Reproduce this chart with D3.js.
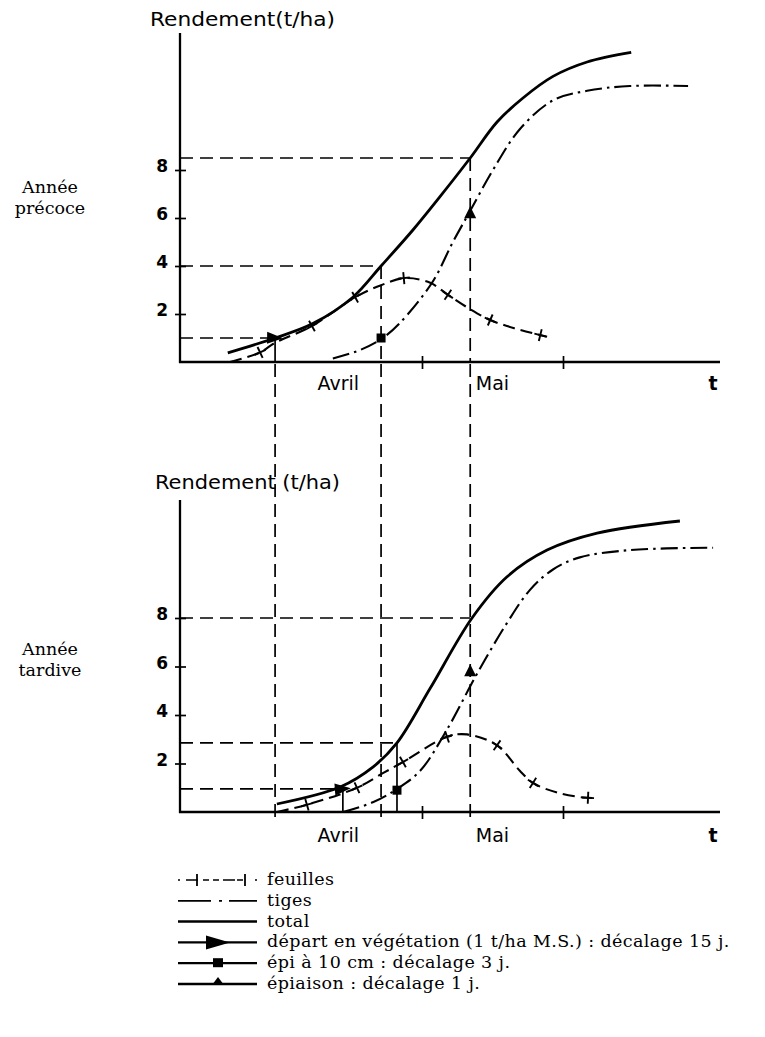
<!DOCTYPE html>
<html><head><meta charset="utf-8">
<script src="https://cdn.jsdelivr.net/npm/d3@7"></script>
<style>body{margin:0;background:#fff} svg{display:block}</style>
</head><body>
<svg id="c" width="765" height="1037"></svg>
<script>
// ---------- DATA (day index: 1 March = 0, 1 May = 61, 1 June = 92; yield t/ha) ----------
const totalEarly = [[18.3,0.38],[28.7,1.0],[37.0,1.6],[45.8,2.7],[52.0,4.0],[59.0,5.5],[65.0,6.9],[71.6,8.5],[77.5,10.0],[83.2,11.0],[89.8,11.9],[97.3,12.5],[107.0,12.9]];
const tigesEarly = [[41.4,0.15],[47.4,0.5],[52.0,0.95],[56.0,1.6],[63.2,3.3],[67.8,5.0],[71.6,6.3],[76.6,8.0],[82.5,9.7],[89.8,10.9],[97.3,11.3],[106.7,11.5],[119.5,11.5]];
const feuillesEarly = [[18.8,0],[25.4,0.4],[28.7,0.8],[36.8,1.5],[46.3,2.7],[52.0,3.2],[57.3,3.5],[62.8,3.3],[66.7,2.8],[71.6,2.2],[76.0,1.75],[81.4,1.4],[88.5,1.05]];
const feuillesMarksEarly = [25.4, 36.8, 46.3, 57.0, 66.7, 76.0, 87.0];

const totalLate = [[29.1,0.33],[43.0,1.03],[50.2,1.85],[55.5,2.85],[62.8,5.1],[72.0,8.0],[79.7,9.7],[88.5,10.8],[99.5,11.5],[117.7,12.0]];
const tigesLate = [[43.6,0],[50.2,0.4],[55.5,0.95],[60.6,1.7],[66.5,3.4],[73.1,5.7],[79.7,7.8],[84.7,9.15],[89.8,10.0],[95.7,10.5],[106.7,10.8],[125.0,10.9]];
const feuillesLate = [[29.1,0],[35.7,0.3],[46.7,1.0],[52.4,1.6],[56.8,2.06],[66.5,3.1],[70.9,3.2],[77.5,2.75],[82.5,1.7],[85.4,1.2],[90.7,0.8],[96.4,0.6],[98.4,0.58]];
const feuillesMarksLate = [35.7, 46.7, 56.8, 66.5, 77.5, 85.4, 97.5];

// stage markers [day, t/ha]
const departEarly = [28.7, 1.0], epiEarly = [52.0, 1.0], epiaisonEarly = [71.6, 6.2];
const departLate = [43.6, 0.95], epiLate = [55.5, 0.9], epiaisonLate = [71.6, 5.8];
// guide levels (t/ha) reached on "total" at each stage day
const guideLevelsEarly = [1.0, 4.0, 8.5], guideDaysEarly = [28.7, 52.0, 71.6];
const guideLevelsLate = [0.95, 2.85, 8.0], guideDaysLate = [43.6, 55.5, 71.6];

const yTicks = [2, 4, 6, 8];
const xTicks = [61, 92];
const monthLabels = ["Avril", "Mai"];
const monthLabelDays = [42.6, 76.5];
const tLabelDay = 125;

const legendLabels = ["feuilles", "tiges", "total",
  "départ en végétation (1 t/ha M.S.) : décalage 15 j.",
  "épi à 10 cm : décalage 3 j.",
  "épiaison : décalage 1 j."];

// ---------- DRAWING ----------
const svg = d3.select("#c");
const x = d3.scaleLinear().domain([61, 92]).range([422, 563]);
const X0 = 180, X1 = 720;
const AXW = 2.3;

function pointAtX(node, px) {
  let lo = 0, hi = node.getTotalLength();
  for (let i = 0; i < 40; i++) {
    const mid = (lo + hi) / 2;
    if (node.getPointAtLength(mid).x < px) lo = mid; else hi = mid;
  }
  const L = (lo + hi) / 2;
  const p = node.getPointAtLength(L);
  const a = node.getPointAtLength(Math.max(0, L - 2));
  const b = node.getPointAtLength(Math.min(node.getTotalLength(), L + 2));
  return {x: p.x, y: p.y, ang: Math.atan2(b.y - a.y, b.x - a.x) * 180 / Math.PI};
}

function panel(cfg) {
  const g = svg.append("g");
  const y = d3.scaleLinear().domain([0, 8]).range([cfg.base, cfg.y8]);
  const line = d3.line().x(d => x(d[0])).y(d => y(d[1])).curve(d3.curveCatmullRom.alpha(0.5));

  // title
  g.append("text").attr("x", cfg.titleX).attr("y", cfg.titleY)
    .attr("font-family", "DejaVu Sans").attr("font-size", 20)
    .attr("textLength", 185).attr("lengthAdjust", "spacingAndGlyphs")
    .text(cfg.title);
  // year label
  cfg.year.forEach((t, i) => g.append("text").attr("x", 50).attr("y", cfg.yearY + i * 21)
    .attr("text-anchor", "middle").attr("font-family", "DejaVu Serif").attr("font-size", 17.5).text(t));

  // guides
  const gd = g.append("g").attr("fill", "none").attr("stroke", "#000").attr("stroke-width", 1.7).attr("stroke-dasharray", "13,7");
  cfg.levels.forEach((lv, i) => {
    gd.append("line").attr("x1", X0).attr("x2", x(cfg.days[i])).attr("y1", y(lv)).attr("y2", y(lv));
  });
  cfg.dashedV.forEach(i => {
    gd.append("line").attr("x1", x(cfg.days[i])).attr("x2", x(cfg.days[i])).attr("y1", y(cfg.levels[i])).attr("y2", cfg.base);
  });
  cfg.solidV.forEach(i => {
    g.append("line").attr("stroke", "#000").attr("stroke-width", 1.7)
      .attr("x1", x(cfg.days[i])).attr("x2", x(cfg.days[i])).attr("y1", y(cfg.levels[i])).attr("y2", cfg.base);
  });

  // axes
  const ya = d3.axisLeft(y).tickValues(yTicks).tickSize(5).tickFormat(d3.format("d"));
  const yg = g.append("g").attr("transform", `translate(${X0},0)`).call(ya);
  yg.select(".domain").remove();
  yg.selectAll(".tick line").attr("x1", -5).attr("x2", 6).attr("stroke-width", 1.7);
  yg.selectAll(".tick text").attr("x", -12).attr("dy", "0.1em").attr("font-family", "DejaVu Sans").attr("font-size", 17).attr("font-weight", "bold");
  g.append("line").attr("x1", X0).attr("x2", X0).attr("y1", cfg.top).attr("y2", cfg.base + 1).attr("stroke", "#000").attr("stroke-width", AXW);

  const xa = d3.axisBottom(x).tickValues(xTicks).tickSize(6).tickFormat("");
  const xg = g.append("g").attr("transform", `translate(0,${cfg.base})`).call(xa);
  xg.select(".domain").remove();
  xg.selectAll(".tick line").attr("y1", -6).attr("y2", 7).attr("stroke-width", 1.7);
  g.append("line").attr("x1", X0 - 1).attr("x2", X1).attr("y1", cfg.base).attr("y2", cfg.base).attr("stroke", "#000").attr("stroke-width", AXW);

  monthLabels.forEach((m, i) => g.append("text").attr("x", x(monthLabelDays[i])).attr("y", cfg.base + cfg.labOff)
    .attr("text-anchor", "middle").attr("font-family", "DejaVu Sans").attr("font-size", 19).text(m));
  g.append("text").attr("x", x(tLabelDay)).attr("y", cfg.base + cfg.labOff).attr("text-anchor", "middle")
    .attr("font-family", "DejaVu Sans").attr("font-size", 19).attr("font-weight", "bold").text("t");

  // series
  g.append("path").datum(cfg.feuilles).attr("d", line).attr("fill", "none").attr("stroke", "#000").attr("stroke-width", 2.1).attr("stroke-dasharray", "12,6");
  const fp = g.append("path").datum(cfg.feuilles).attr("d", line).attr("fill", "none").attr("stroke", "none").node();
  g.append("path").datum(cfg.tiges).attr("d", line).attr("fill", "none").attr("stroke", "#000").attr("stroke-width", 2.1).attr("stroke-dasharray", "17,5,2.5,5");
  const tp = g.append("path").datum(cfg.total).attr("d", line).attr("fill", "none").attr("stroke", "#000").attr("stroke-width", 2.8).node();

  cfg.marks.forEach(d => {
    const p = pointAtX(fp, x(d));
    const c = g.append("g").attr("transform", `translate(${p.x},${p.y}) rotate(${p.ang})`).attr("stroke", "#000").attr("stroke-width", 1.9);
    c.append("line").attr("x1", -6).attr("x2", 6);
    c.append("line").attr("y1", -6).attr("y2", 6);
  });

  // stage markers
  const dp = pointAtX(tp, x(cfg.depart[0]));
  g.append("path").attr("d", "M-8,-6 L8,0 L-8,6Z").attr("fill", "#000")
    .attr("transform", `translate(${x(cfg.depart[0])},${y(cfg.depart[1])}) rotate(${dp.ang + 20})`);
  g.append("rect").attr("x", x(cfg.epi[0]) - 4.5).attr("y", y(cfg.epi[1]) - 4.5).attr("width", 9).attr("height", 9).attr("fill", "#000");
  g.append("path").attr("d", "M0,-7 L6,5 L-6,5Z").attr("fill", "#000")
    .attr("transform", `translate(${x(cfg.epiaison[0])},${y(cfg.epiaison[1])})`);
}

panel({title: "Rendement(t/ha)", titleX: 150, titleY: 26, year: ["Année", "précoce"], yearY: 193,
  base: 362, y8: 170, top: 33, labOff: 28,
  total: totalEarly, tiges: tigesEarly, feuilles: feuillesEarly, marks: feuillesMarksEarly,
  depart: departEarly, epi: epiEarly, epiaison: epiaisonEarly,
  levels: guideLevelsEarly, days: guideDaysEarly, dashedV: [1, 2], solidV: [0]});

panel({title: "Rendement (t/ha)", titleX: 155, titleY: 489, year: ["Année", "tardive"], yearY: 655,
  base: 812, y8: 618, top: 500, labOff: 30,
  total: totalLate, tiges: tigesLate, feuilles: feuillesLate, marks: feuillesMarksLate,
  depart: departLate, epi: epiLate, epiaison: epiaisonLate,
  levels: guideLevelsLate, days: guideDaysLate, dashedV: [], solidV: [0, 1]});

// connecting dashed verticals (stage days of the early year) from top axis down through the late panel
guideDaysEarly.forEach(d => {
  svg.append("line").attr("x1", x(d)).attr("x2", x(d)).attr("y1", 364).attr("y2", 824)
    .attr("stroke", "#000").attr("stroke-width", 1.7).attr("stroke-dasharray", "13,7");
});

// ---------- LEGEND ----------
const lg = svg.append("g").attr("stroke", "#000");
const rowY = d => 880 + d * 20.8;
const LX0 = 178, LX1 = 257;
// feuilles
lg.append("line").attr("x1", LX0).attr("x2", LX1).attr("y1", rowY(0)).attr("y2", rowY(0)).attr("stroke-width", 1.6).attr("stroke-dasharray", "2,6,12,5,6,4,6,4,12");
[197, 245].forEach(px => lg.append("line").attr("x1", px).attr("x2", px).attr("y1", rowY(0) - 6).attr("y2", rowY(0) + 6).attr("stroke-width", 1.8));
// tiges
lg.append("line").attr("x1", LX0).attr("x2", LX1).attr("y1", rowY(1)).attr("y2", rowY(1)).attr("stroke-width", 1.8).attr("stroke-dasharray", "33,8,3,7,40");
// total
lg.append("line").attr("x1", LX0).attr("x2", LX1).attr("y1", rowY(2)).attr("y2", rowY(2)).attr("stroke-width", 2.5);
// depart
lg.append("line").attr("x1", LX0).attr("x2", LX1).attr("y1", rowY(3)).attr("y2", rowY(3)).attr("stroke-width", 2.3);
lg.append("path").attr("d", `M${206},${rowY(3) - 7} L${230},${rowY(3)} L${206},${rowY(3) + 7}Z`).attr("fill", "#000").attr("stroke", "none");
// epi
lg.append("line").attr("x1", LX0).attr("x2", LX1).attr("y1", rowY(4)).attr("y2", rowY(4)).attr("stroke-width", 2.3);
lg.append("rect").attr("x", 213).attr("y", rowY(4) - 5).attr("width", 10).attr("height", 9).attr("fill", "#000").attr("stroke", "none");
// epiaison
lg.append("line").attr("x1", LX0).attr("x2", LX1).attr("y1", rowY(5)).attr("y2", rowY(5)).attr("stroke-width", 2.3);
lg.append("path").attr("d", `M${218},${rowY(5) - 7} L${224},${rowY(5) + 1} L${212},${rowY(5) + 1}Z`).attr("fill", "#000").attr("stroke", "none");

legendLabels.forEach((t, i) => svg.append("text").attr("x", 267).attr("y", rowY(i) + 5)
  .attr("font-family", "DejaVu Serif").attr("font-size", 17.5).attr("letter-spacing", 0.4).text(t));
</script>
</body></html>
